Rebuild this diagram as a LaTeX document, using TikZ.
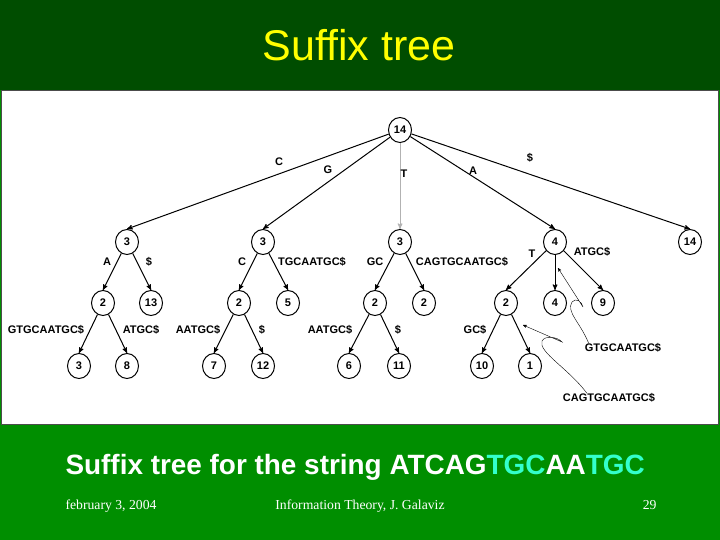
\documentclass[tikz,border=0pt]{standalone}
\usepackage{fontspec}
\setmainfont{Liberation Serif}
\setsansfont{Liberation Sans}
\usetikzlibrary{arrows,shapes.geometric}
\definecolor{topgreen}{RGB}{0,77,0}
\definecolor{botgreen}{RGB}{0,142,0}
\definecolor{titleyellow}{RGB}{255,255,0}
\definecolor{aqua}{RGB}{51,255,204}

\begin{document}
\begin{tikzpicture}[x=1pt,y=-1pt]
	\tikzstyle{vtx}=[draw, line width=1pt, ellipse, minimum width=23pt, minimum height=25pt, inner sep=0pt, font=\sffamily\bfseries\fontsize{11}{11}\selectfont]
	\tikzstyle{lbl}=[inner sep=0pt, font=\sffamily\bfseries\fontsize{11}{11}\selectfont]
	\tikzstyle{edge}=[->, >=stealth', line width=1pt]
	\tikzstyle{note}=[->, >=stealth', thin]
	\useasboundingbox (0,0) rectangle (720,540);
	% slide background
	\fill[topgreen] (0,0) rectangle (720,90);
	\fill[botgreen] (0,90) rectangle (720,540);
	\draw[gray!60!black, line width=1.2pt, fill=white] (1.5,90.5) rectangle (718.5,424.5);
	\node[font=\sffamily\fontsize{43}{43}\selectfont, text=titleyellow, anchor=base] (title) at (359,61) {Suffix tree};
	% tree nodes
	\draw (400,130) node[vtx] (r) {14};
	\draw (127,242) node[vtx] (c) {3};
	\draw (263,242) node[vtx] (g) {3};
	\draw (400,242) node[vtx] (t) {3};
	\draw (555,242) node[vtx] (a) {4};
	\draw (690,242) node[vtx] (s) {14};
	\draw (103,303) node[vtx] (ca) {2};
	\draw (151,303) node[vtx] (cs) {13};
	\draw (239,303) node[vtx] (gc) {2};
	\draw (288,303) node[vtx] (gt) {5};
	\draw (375,303) node[vtx] (tg) {2};
	\draw (424,303) node[vtx] (tc) {2};
	\draw (506,303) node[vtx] (at) {2};
	\draw (555,303) node[vtx] (aa) {4};
	\draw (603,303) node[vtx] (ag) {9};
	\draw (79,366) node[vtx] (cag) {3};
	\draw (127,366) node[vtx] (caa) {8};
	\draw (214,366) node[vtx] (gca) {7};
	\draw (263,366) node[vtx] (gcs) {12};
	\draw (349,366) node[vtx] (tga) {6};
	\draw (399,366) node[vtx] (tgs) {11};
	\draw (482,366) node[vtx] (atg) {10};
	\draw (530,366) node[vtx] (atc) {1};
	% edges
	\draw[edge] (r) -- (c.north);
	\draw[edge] (r) -- (g.north);
	\draw[edge, gray!60] (r) -- (t.north);
	\draw[edge] (r) -- (a.north);
	\draw[edge] (r) -- (s.north);
	\draw[edge] (c) -- (ca.north);
	\draw[edge] (c) -- (cs.north);
	\draw[edge] (g) -- (gc.north);
	\draw[edge] (g) -- (gt.north);
	\draw[edge] (t) -- (tg.north);
	\draw[edge] (t) -- (tc.north);
	\draw[edge] (a) -- (at.north);
	\draw[edge] (a) -- (aa.north);
	\draw[edge] (a) -- (ag.north);
	\draw[edge] (ca) -- (cag.north);
	\draw[edge] (ca) -- (caa.north);
	\draw[edge] (gc) -- (gca.north);
	\draw[edge] (gc) -- (gcs.north);
	\draw[edge] (tg) -- (tga.north);
	\draw[edge] (tg) -- (tgs.north);
	\draw[edge] (at) -- (atg.north);
	\draw[edge] (at) -- (atc.north);
	% edge labels
	\draw (279,162) node[lbl] (lC) {C};
	\draw (328,170) node[lbl] (lG) {G};
	\draw (404,174) node[lbl] (lT) {T};
	\draw (473,171) node[lbl] (lA) {A};
	\draw (530,158) node[lbl] (lS) {\$};
	\draw (107,262) node[lbl] (lca) {A};
	\draw (149,262) node[lbl] (lcs) {\$};
	\draw (242,262) node[lbl] (lgc) {C};
	\draw (312,262) node[lbl] (lgt) {TGCAATGC\$};
	\draw (375,262) node[lbl] (ltg) {GC};
	\draw (462,262) node[lbl] (ltc) {CAGTGCAATGC\$};
	\draw (532,254) node[lbl] (lat) {T};
	\draw (592,252) node[lbl] (lag) {ATGC\$};
	\draw (46,330) node[lbl] (lcag) {GTGCAATGC\$};
	\draw (141,330) node[lbl] (lcaa) {ATGC\$};
	\draw (198,330) node[lbl] (lgca) {AATGC\$};
	\draw (262,330) node[lbl] (lgcs) {\$};
	\draw (330,330) node[lbl] (ltga) {AATGC\$};
	\draw (398,330) node[lbl] (ltgs) {\$};
	\draw (475,330) node[lbl] (latg) {GC\$};
	\draw (623,348) node[lbl] (naa) {GTGCAATGC\$};
	\draw (609,398) node[lbl] (natc) {CAGTGCAATGC\$};
	% squiggly pointers to the unlabelled edges
	\draw[note] ([xshift=4pt]naa.north west) .. controls (580,322) and (566,312) .. (572,302) .. controls (576,297) and (582,302) .. (583,307) -- (558,268);
	\draw[note] ([xshift=-22pt]natc.north) .. controls (568,368) and (538,352) .. (542,341) .. controls (545,335) and (558,337) .. (562,342) -- (523,325);
	% caption and footer
	\node[anchor=base west, text=white, font=\sffamily\bfseries\fontsize{27.9}{27.9}\selectfont] (cap) at (62,474) {Suffix tree for the string ATCAG\textcolor{aqua}{TGC}AA\textcolor{aqua}{TGC}};
	\node[anchor=base west, text=white, font=\fontsize{13.7}{13.7}\selectfont] (date) at (62,509) {february 3, 2004};
	\node[anchor=base, text=white, font=\fontsize{13.7}{13.7}\selectfont] (src) at (360,509) {Information Theory, J. Galaviz};
	\node[anchor=base east, text=white, font=\fontsize{13.7}{13.7}\selectfont] (pg) at (660,509) {29};
\end{tikzpicture}
\end{document}
